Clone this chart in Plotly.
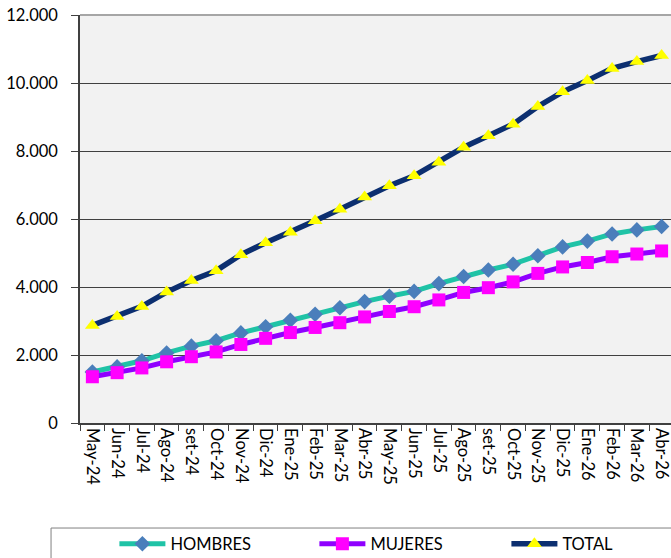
import plotly.graph_objects as go

meses = ["May-24", "Jun-24", "Jul-24", "Ago-24", "set-24", "Oct-24", "Nov-24", "Dic-24",
         "Ene-25", "Feb-25", "Mar-25", "Abr-25", "May-25", "Jun-25", "Jul-25", "Ago-25",
         "set-25", "Oct-25", "Nov-25", "Dic-25", "Ene-26", "Feb-26", "Mar-26", "Abr-26"]

hombres = [1500, 1650, 1830, 2060, 2260, 2420, 2650, 2830,
           3020, 3200, 3390, 3570, 3730, 3870, 4100, 4310,
           4500, 4670, 4920, 5180, 5350, 5560, 5680, 5780]

mujeres = [1360, 1480, 1620, 1800, 1950, 2090, 2310, 2490,
           2660, 2810, 2950, 3120, 3280, 3420, 3620, 3840,
           3980, 4150, 4400, 4590, 4720, 4890, 4970, 5060]

total = [2870, 3130, 3430, 3850, 4190, 4480, 4950, 5300,
         5610, 5950, 6290, 6650, 6980, 7270, 7670, 8110,
         8450, 8790, 9310, 9740, 10070, 10430, 10630, 10810]

y_ticks = [0, 2000, 4000, 6000, 8000, 10000, 12000]

FONT = "Lato"
FS = 16.5

fig = go.Figure()

fig.add_trace(go.Scatter(
    x=meses, y=hombres, name="HOMBRES", mode="lines+markers",
    line=dict(color="#1FC3A6", width=5),
    marker=dict(symbol="diamond", size=12, color="#4A7EBB", line=dict(width=0)),
    legend="legend",
))
fig.add_trace(go.Scatter(
    x=meses, y=mujeres, name="MUJERES", mode="lines+markers",
    line=dict(color="#8F00FF", width=5),
    marker=dict(symbol="square", size=13, color="#FF00FF", line=dict(width=0)),
    legend="legend2",
))
fig.add_trace(go.Scatter(
    x=meses, y=total, name="TOTAL", mode="lines+markers",
    line=dict(color="#0C2F70", width=5.5),
    marker=dict(symbol="triangle-up", size=13, color="#FFFF00", line=dict(width=0)),
    legend="legend3",
))

leg_common = dict(
    orientation="h", yanchor="middle", y=-0.2966, xanchor="left",
    bgcolor="rgba(0,0,0,0)", borderwidth=0, itemwidth=46,
    font=dict(family=FONT, size=FS, color="#000000"),
)

fig.update_layout(
    width=671, height=558, autosize=False,
    margin=dict(l=80, r=0, t=15, b=135, pad=0, autoexpand=False),
    paper_bgcolor="#FFFFFF", plot_bgcolor="#F2F2F2",
    separators=",.",
    font=dict(family=FONT, size=FS, color="#000000"),
    showlegend=True,
    legend=dict(x=0.0582, **leg_common),
    legend2=dict(x=0.3966, **leg_common),
    legend3=dict(x=0.7215, **leg_common),
    xaxis=dict(
        type="category", range=[-0.5, 23.38], automargin=False,
        tickangle=90, ticks="outside", ticklen=6, tickwidth=1, tickcolor="#404040",
        tickson="boundaries", showgrid=False,
        showline=True, linecolor="#404040", linewidth=1.5,
        tickfont=dict(family=FONT, size=FS, color="#000000"),
        zeroline=False, fixedrange=True,
    ),
    yaxis=dict(
        range=[0, 12000], tickvals=y_ticks, tickformat=",d", automargin=False,
        ticks="outside", ticklen=7, tickwidth=1, tickcolor="#404040",
        showgrid=True, gridcolor="#404040", gridwidth=1,
        showline=True, linecolor="#404040", linewidth=1.5,
        tickfont=dict(family=FONT, size=FS, color="#000000"),
        ticklabelstandoff=10, zeroline=False, fixedrange=True,
    ),
    shapes=[
        dict(type="line", xref="paper", yref="paper", x0=0, x1=1, y0=1, y1=1,
             line=dict(color="#A6A6A6", width=2), layer="above"),
        dict(type="rect", xref="paper", yref="paper", x0=-0.049, x1=1.2,
             y0=-0.2574, y1=-0.6, line=dict(color="#808080", width=1),
             fillcolor="rgba(0,0,0,0)", layer="below"),
    ],
)

fig.write_html("out.html",
               config={"displayModeBar": False},
               post_script="document.body.style.margin='0';document.body.style.overflow='hidden';")
